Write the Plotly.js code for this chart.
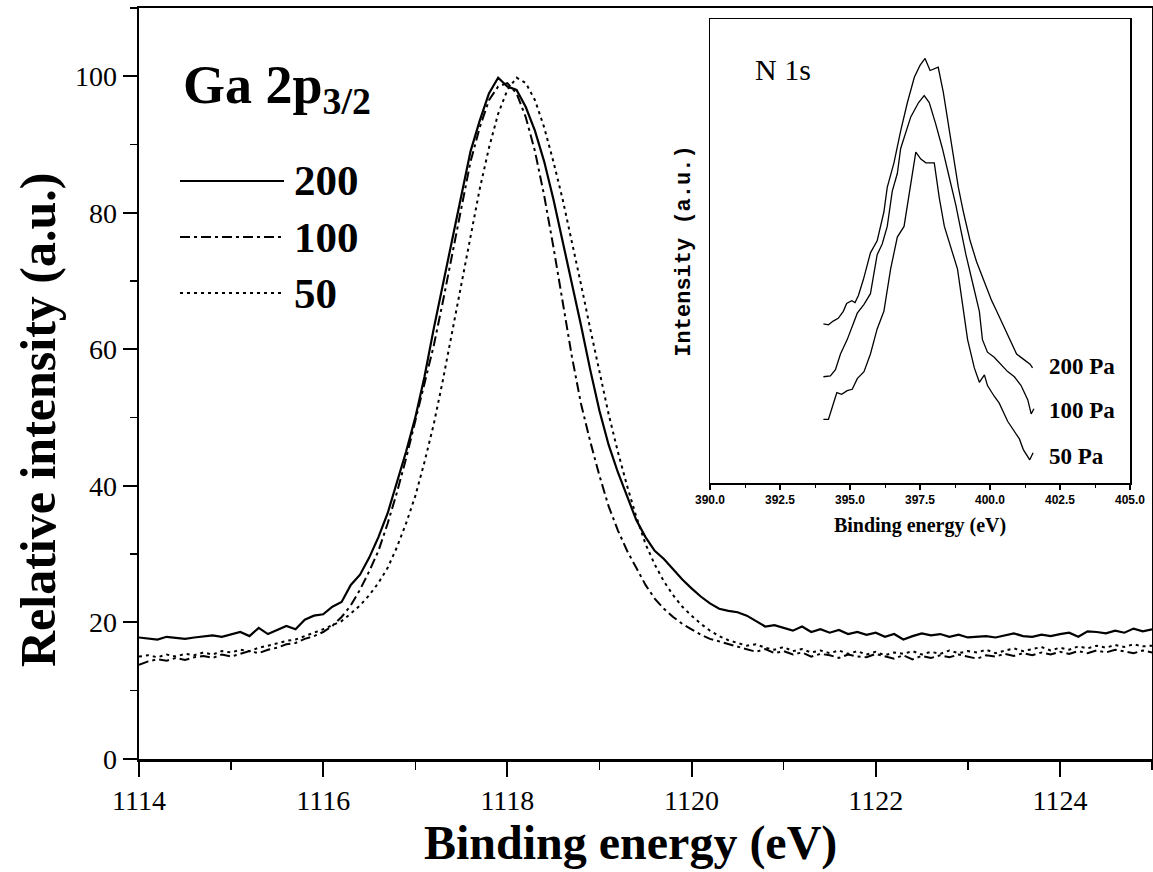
<!DOCTYPE html>
<html>
<head>
<meta charset="utf-8">
<script src="https://cdn.plot.ly/plotly-3.0.1.min.js"></script>
<style>html,body{margin:0;padding:0;background:#fff;}#chart{width:1153px;height:872px;}</style>
</head>
<body>
<div id="chart"></div>
<script>
// ---------- Main panel: Ga 2p3/2 ----------
var energy = [1114.0,1114.1,1114.2,1114.3,1114.4,1114.5,1114.6,1114.7,1114.8,1114.9,
1115.0,1115.1,1115.2,1115.3,1115.4,1115.5,1115.6,1115.7,1115.8,1115.9,
1116.0,1116.1,1116.2,1116.3,1116.4,1116.5,1116.6,1116.7,1116.8,1116.9,
1117.0,1117.1,1117.2,1117.3,1117.4,1117.5,1117.6,1117.7,1117.8,1117.9,
1118.0,1118.1,1118.2,1118.3,1118.4,1118.5,1118.6,1118.7,1118.8,1118.9,
1119.0,1119.1,1119.2,1119.3,1119.4,1119.5,1119.6,1119.7,1119.8,1119.9,
1120.0,1120.1,1120.2,1120.3,1120.4,1120.5,1120.6,1120.7,1120.8,1120.9,
1121.0,1121.1,1121.2,1121.3,1121.4,1121.5,1121.6,1121.7,1121.8,1121.9,
1122.0,1122.1,1122.2,1122.3,1122.4,1122.5,1122.6,1122.7,1122.8,1122.9,
1123.0,1123.1,1123.2,1123.3,1123.4,1123.5,1123.6,1123.7,1123.8,1123.9,
1124.0,1124.1,1124.2,1124.3,1124.4,1124.5,1124.6,1124.7,1124.8,1124.9,
1125.0];

var ga200 = [17.8,17.6,17.5,17.9,17.7,17.6,17.8,18.0,18.1,17.9,
18.2,18.6,18.0,19.2,18.3,18.9,19.5,19.0,20.4,21.0,
21.2,22.3,23.0,25.5,27.0,29.5,32.5,36.0,40.5,45.0,
50.0,56.0,63.0,69.5,76.0,82.5,89.0,93.5,97.5,99.8,
98.5,98.0,95.5,92.0,87.5,82.0,76.0,70.0,63.5,57.0,
51.0,46.0,42.0,38.5,35.0,32.5,30.5,29.3,27.8,26.3,
25.0,23.8,22.8,22.0,21.7,21.5,21.0,20.2,19.4,19.6,
19.2,18.8,19.4,18.6,19.0,18.5,18.9,18.3,18.6,18.2,
18.5,17.9,18.3,17.5,18.0,18.4,18.1,18.3,17.9,18.2,
17.8,17.9,18.0,17.8,18.1,18.4,18.0,17.9,18.2,18.0,
18.3,18.5,17.9,18.7,18.6,18.4,18.8,18.5,19.1,18.7,
19.0];

var ga100 = [13.8,14.3,14.6,14.4,14.8,14.5,14.9,15.1,14.8,15.3,
15.0,15.4,15.8,15.5,16.0,16.3,16.8,17.0,17.6,18.0,
18.6,19.5,20.8,22.5,24.8,27.5,30.5,34.5,39.0,44.0,
49.5,55.0,60.5,67.0,74.0,81.0,87.5,92.5,96.5,98.5,
99.0,97.5,94.0,89.0,82.5,75.0,67.0,59.0,52.0,46.5,
41.5,37.0,33.5,30.5,28.0,25.5,23.5,22.0,20.8,19.8,
19.0,18.2,17.6,17.2,16.8,16.5,16.0,15.7,16.1,15.5,
15.8,15.3,15.6,15.0,15.4,15.2,14.8,15.3,15.0,14.9,
15.4,15.0,14.7,15.2,14.6,15.1,14.8,15.2,14.9,15.3,
15.0,14.7,15.2,15.0,15.4,15.1,15.5,15.2,15.6,15.3,
15.7,15.4,15.8,15.5,15.9,15.6,16.0,15.7,15.5,15.9,
15.6];

var ga50 = [15.0,15.2,14.9,15.3,15.0,15.4,15.2,15.6,15.3,15.8,
15.6,16.0,15.8,16.3,16.6,17.0,17.3,17.5,18.0,18.4,
19.0,19.6,20.2,21.3,22.5,24.0,25.8,28.0,31.0,34.5,
38.5,43.5,49.0,55.5,62.5,69.5,76.5,83.5,89.5,94.5,
98.0,99.8,99.0,96.5,92.5,87.5,82.0,76.0,69.5,63.0,
56.5,50.5,45.0,40.0,35.5,31.5,28.5,26.0,24.0,22.3,
21.0,19.8,18.8,18.0,17.4,17.0,16.6,16.8,16.3,16.0,
16.4,15.8,16.1,15.6,15.9,15.5,15.9,15.4,15.8,15.3,
15.7,15.2,15.6,15.4,15.8,15.3,15.7,15.4,15.9,15.5,
15.8,15.6,16.0,15.5,15.9,16.2,15.8,16.1,16.4,15.9,
16.3,16.0,16.5,16.2,16.6,16.3,16.7,16.4,16.8,16.5,
16.6];

var mainLegend = ["200", "100", "50"];
var xTickVals = [1114, 1116, 1118, 1120, 1122, 1124];
var yTickVals = [0, 20, 40, 60, 80, 100];

// ---------- Inset: N 1s ----------
var n200E = [394.05,394.23,394.4,394.58,394.76,394.88,395.06,395.18,395.3,395.48,395.73,395.97,396.21,396.33,396.57,396.81,397.05,397.3,397.5,397.68,397.86,398.15,398.33,398.51,398.69,398.87,399.05,399.29,399.52,399.76,400.06,400.24,400.48,400.71,400.95,401.19,401.43,401.52];
var n200I = [34.3,34.1,34.9,35.5,37,38.7,39.3,38.9,40.4,43.9,49.6,52.2,58.4,63.7,69,75.9,82,87.5,90,91.5,88.9,89.6,84.3,77.4,69.8,63.7,58.4,52.2,47.7,43.9,39.3,37,33.9,30.9,27.8,26.7,25.6,24.8];

var n100E = [394.05,394.3,394.48,394.66,394.9,395.08,395.26,395.5,395.73,395.97,396.15,396.33,396.51,396.69,396.81,397.17,397.45,397.65,397.83,398.06,398.3,398.54,398.78,398.96,399.14,399.38,399.62,399.73,399.91,400.15,400.39,400.63,400.87,401.11,401.35,401.47,401.57];
var n100I = [22.9,23.1,24.4,27.8,30.9,33.6,36.6,38.5,40.8,49.2,51.5,55.3,62.9,66.7,72.1,78.9,82,83.5,82,77.4,72.1,66,59.9,54.5,49.2,43.1,37,30.9,28.2,27.1,25.6,24,22.9,21,17.9,14.9,16];

var n50E = [394.05,394.23,394.41,394.53,394.7,394.9,395.08,395.26,395.5,395.73,395.97,396.21,396.45,396.69,396.93,397.17,397.35,397.53,397.71,398.01,398.19,398.37,398.6,398.84,399.02,399.2,399.44,399.62,399.8,399.91,400.15,400.33,400.63,400.87,401.05,401.19,401.42,401.54];
var n50I = [13.7,13.7,17.2,19.5,19.1,19.9,20.2,22.5,24,27.8,33.2,37,46.1,53,55.3,64.5,71.3,69.8,69,69,61.4,55.3,50.7,46.1,38.5,30.9,24.8,21.7,23.3,21,18.7,17.2,13.3,11.1,9.5,7.2,5,6.5];

var insetLabels = ["200 Pa", "100 Pa", "50 Pa"];
var insetTickVals = [390, 392.5, 395, 397.5, 400, 402.5, 405];
var insetTickText = ["390.0", "392.5", "395.0", "397.5", "400.0", "402.5", "405.0"];

// ---------- helpers: pixel -> paper ----------
var W = 1153, H = 872;
var M = {l: 139, r: 1, t: 8, b: 113};
var PW = W - M.l - M.r, PH = H - M.t - M.b;
function px(x) { return (x - M.l) / PW; }
function py(y) { return (H - M.b - y) / PH; }

var serif = "Liberation Serif, Times New Roman, serif";
var sans = "Liberation Sans Narrow, Liberation Sans, Arial, sans-serif";
var mono = "Liberation Mono, Courier New, monospace";

var traces = [
  {x: energy, y: ga200, type: "scatter", mode: "lines", name: mainLegend[0],
   line: {color: "#000", width: 2.2}, xaxis: "x", yaxis: "y"},
  {x: energy, y: ga100, type: "scatter", mode: "lines", name: mainLegend[1],
   line: {color: "#000", width: 2, dash: "10px,4px,3px,4px"}, xaxis: "x", yaxis: "y"},
  {x: energy, y: ga50, type: "scatter", mode: "lines", name: mainLegend[2],
   line: {color: "#000", width: 2, dash: "3px,4px"}, xaxis: "x", yaxis: "y"},
  {x: n200E, y: n200I, type: "scatter", mode: "lines", name: insetLabels[0],
   line: {color: "#000", width: 1.3}, xaxis: "x2", yaxis: "y2"},
  {x: n100E, y: n100I, type: "scatter", mode: "lines", name: insetLabels[1],
   line: {color: "#000", width: 1.3}, xaxis: "x2", yaxis: "y2"},
  {x: n50E, y: n50I, type: "scatter", mode: "lines", name: insetLabels[2],
   line: {color: "#000", width: 1.3}, xaxis: "x2", yaxis: "y2"}
];

// legend samples (style only) drawn as shapes in paper coordinates
var legendY = [181, 237, 293];
var legendDash = ["solid", "10px,4px,3px,4px", "3px,4px"];
var shapes = [];
for (var i = 0; i < 3; i++) {
  shapes.push({type: "line", xref: "paper", yref: "paper",
    x0: px(180), x1: px(284), y0: py(legendY[i]), y1: py(legendY[i]),
    line: {color: "#000", width: 2, dash: legendDash[i]}});
}

var annotations = [
  {xref: "paper", yref: "paper", x: px(181), y: py(88), xanchor: "left", yanchor: "middle",
   text: "<b>Ga 2p<sub>3/2</sub></b>", showarrow: false, font: {family: serif, size: 54, color: "#000"}},
  {xref: "paper", yref: "paper", x: px(630), y: py(843), xanchor: "center", yanchor: "middle",
   text: "<b>Binding energy (eV)</b>", showarrow: false, font: {family: serif, size: 48, color: "#000"}},
  {xref: "paper", yref: "paper", x: px(38), y: py(420), xanchor: "center", yanchor: "middle", textangle: -90,
   text: "<b>Relative intensity (a.u.)</b>", showarrow: false, font: {family: serif, size: 50, color: "#000"}},
  {xref: "paper", yref: "paper", x: px(753), y: py(70), xanchor: "left", yanchor: "middle",
   text: "N 1s", showarrow: false, font: {family: serif, size: 30, color: "#000"}}
];
for (var j = 0; j < 3; j++) {
  annotations.push({xref: "paper", yref: "paper", x: px(292), y: py(legendY[j]), xanchor: "left", yanchor: "middle",
    text: "<b>" + mainLegend[j] + "</b>", showarrow: false, font: {family: serif, size: 43, color: "#000"}});
}
var insetLabelY = [366, 410, 456];
for (var k = 0; k < 3; k++) {
  annotations.push({xref: "paper", yref: "paper", x: px(1047), y: py(insetLabelY[k]), xanchor: "left", yanchor: "middle",
    text: "<b>" + insetLabels[k] + "</b>", showarrow: false, font: {family: serif, size: 23, color: "#000"}});
}

var layout = {
  width: W, height: H,
  margin: M,
  paper_bgcolor: "#fff", plot_bgcolor: "#fff",
  showlegend: false,
  hovermode: false,
  xaxis: {
    range: [1114, 1125], tickvals: xTickVals, ticks: "outside", ticklen: 15, tickwidth: 2, tickcolor: "#000",
    minor: {dtick: 1, tick0: 1114, ticks: "outside", ticklen: 8, tickwidth: 1.5, tickcolor: "#000"},
    showline: true, linewidth: 2.5, linecolor: "#000", mirror: true,
    showgrid: false, zeroline: false,
    tickfont: {family: serif, size: 28, color: "#000"},
    domain: [0, 1]
  },
  yaxis: {
    range: [0, 110], tickvals: yTickVals, ticks: "outside", ticklen: 14, tickwidth: 2, tickcolor: "#000",
    minor: {dtick: 10, tick0: 0, ticks: "outside", ticklen: 7, tickwidth: 1.5, tickcolor: "#000"},
    showline: true, linewidth: 2.5, linecolor: "#000", mirror: true,
    showgrid: false, zeroline: false,
    tickfont: {family: serif, size: 28, color: "#000"},
    domain: [0, 1]
  },
  xaxis2: {
    anchor: "y2", domain: [px(710), px(1130)],
    range: [390, 405], tickvals: insetTickVals, ticktext: insetTickText,
    ticks: "outside", ticklen: 5, tickwidth: 1.5, tickcolor: "#000",
    minor: {dtick: 1.25, tick0: 390, ticks: "outside", ticklen: 3, tickwidth: 1, tickcolor: "#000"},
    showline: true, linewidth: 1.5, linecolor: "#000", mirror: true,
    showgrid: false, zeroline: false,
    tickfont: {family: sans, size: 12, color: "#000", weight: "bold"},
    title: {text: "<b>Binding energy (eV)</b>", font: {family: serif, size: 20, color: "#000"}, standoff: 12}
  },
  yaxis2: {
    anchor: "x2", domain: [py(483), py(19)],
    range: [0, 100], showticklabels: false, ticks: "",
    showline: true, linewidth: 1.5, linecolor: "#000", mirror: true,
    showgrid: false, zeroline: false,
    title: {text: "<b>Intensity (a.u.)</b>", font: {family: mono, size: 22, color: "#000"}, standoff: 12}
  },
  shapes: shapes,
  annotations: annotations
};

Plotly.newPlot("chart", traces, layout, {displayModeBar: false, staticPlot: true});
</script>
</body>
</html>
